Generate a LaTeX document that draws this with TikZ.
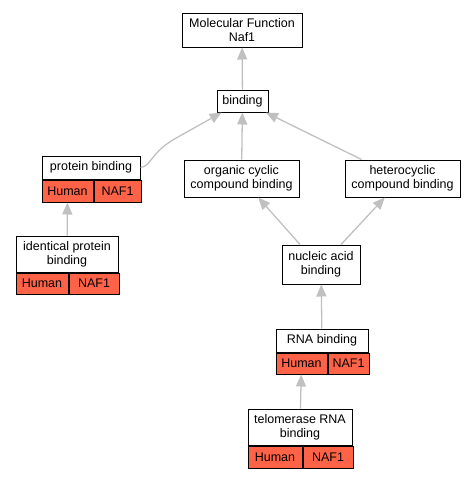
\documentclass[tikz,border=0pt]{standalone}
\usepackage{fontspec}
\setmainfont{Liberation Sans}
\usetikzlibrary{arrows.meta, positioning, calc}
\definecolor{tomato}{HTML}{FF6347}
\definecolor{edgegray}{HTML}{C0C0C0}
\begin{document}
\begin{tikzpicture}[x=1pt, y=-1pt, font=\fontsize{12.5}{14}\selectfont,
    term/.style={draw, line width=1pt, fill=white, align=center, inner sep=0pt},
    gene/.style={draw, line width=1pt, fill=tomato, inner sep=0pt, anchor=north west},
    isa/.style={draw=edgegray, line width=1.3pt, -{Triangle[width=10pt,length=12pt, fill=edgegray]}}]
        \useasboundingbox (0,0) rectangle (476,477);

        % Terms
        \node[term, minimum width=120pt, minimum height=34pt] (mf) at (242,30) {Molecular Function\\Naf1};
        \node[term, minimum width=51pt, minimum height=22pt] (bind) at (242.5,101) {binding};
        \node[term, minimum width=98pt, minimum height=23pt] (pb) at (91,167.5) {protein binding};
        \node[term, minimum width=115pt, minimum height=37pt] (occ) at (241.5,178.5) {organic cyclic\\compound binding};
        \node[term, minimum width=115pt, minimum height=37pt] (hcc) at (402.5,178.5) {heterocyclic\\compound binding};
        \node[term, minimum width=102pt, minimum height=36pt] (ipb) at (67,254) {identical protein\\binding};
        \node[term, minimum width=78pt, minimum height=39pt] (nab) at (321,264.5) {nucleic acid\\binding};
        \node[term, minimum width=92pt, minimum height=23pt] (rna) at (322,340.5) {RNA binding};
        \node[term, minimum width=104pt, minimum height=36pt] (tel) at (300,427) {telomerase RNA\\binding};

        % Annotations
        \node[gene, minimum width=51pt, minimum height=22pt] (pbh) at (pb.south west) {Human};
        \node[gene, minimum width=47pt, minimum height=22pt] (pbn) at (pbh.north east) {NAF1};
        \node[gene, minimum width=52pt, minimum height=21pt] (ipbh) at (ipb.south west) {Human};
        \node[gene, minimum width=50pt, minimum height=21pt] (ipbn) at (ipbh.north east) {NAF1};
        \node[gene, minimum width=51pt, minimum height=21pt] (rnah) at (rna.south west) {Human};
        \node[gene, minimum width=41pt, minimum height=21pt] (rnan) at (rnah.north east) {NAF1};
        \node[gene, minimum width=54pt, minimum height=22pt] (telh) at (tel.south west) {Human};
        \node[gene, minimum width=50pt, minimum height=22pt] (teln) at (telh.north east) {NAF1};

        % Connections
        \draw[isa] (bind) -- (mf);
        \draw[isa] (pb.east) .. controls (152,166) and (150,152) .. (178,137)
            -- ($(bind.south west)!0.1!(bind.south east)$);
        \draw[isa] (occ) -- (bind);
        \draw[isa] ($(hcc.north west)+(17,0)$) -- (bind);
        \draw[isa] ($(nab.north)+(-21,0)$) -- (occ);
        \draw[isa] ($(nab.north)+(20,0)$) -- (hcc);
        \draw[isa] (ipb) -- (pbh);
        \draw[isa] (rna) -- (nab);
        \draw[isa] (tel) -- (rnah);
      \end{tikzpicture}
\end{document}
